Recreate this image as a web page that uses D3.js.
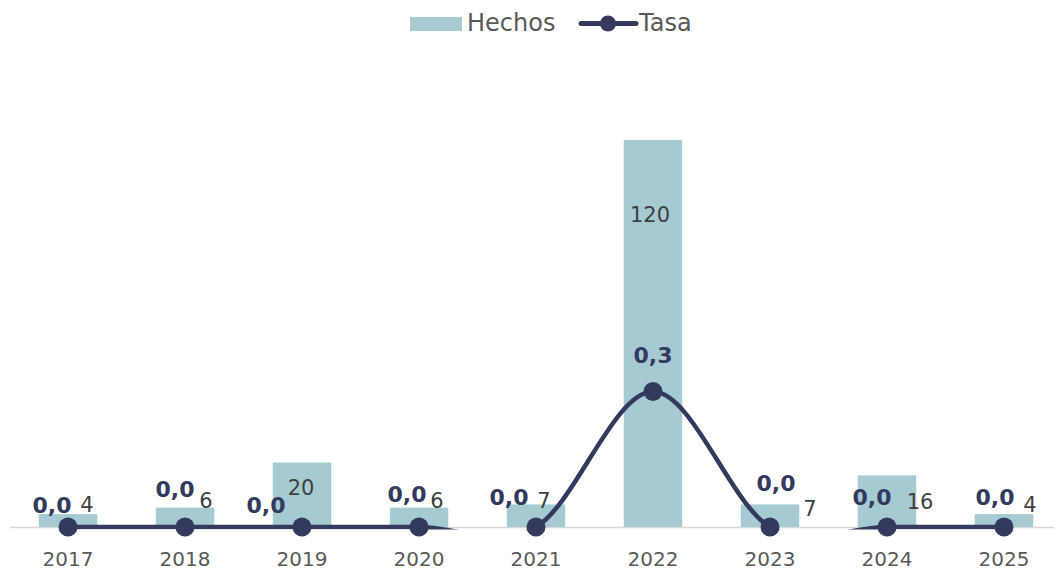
<!DOCTYPE html>
<html><head><meta charset="utf-8">
<script src="https://cdn.jsdelivr.net/npm/d3@7"></script>
<style>html,body{margin:0;padding:0;background:#fff;}svg{display:block;}</style>
</head><body>
<svg id="c" width="1054" height="570"></svg>
<script>
const years = ["2017","2018","2019","2020","2021","2022","2023","2024","2025"];
const hechos = [4, 6, 20, 6, 7, 120, 7, 16, 4];
const tasa = [0.0, 0.0, 0.0, 0.0, 0.0, 0.3, 0.0, 0.0, 0.0];
const tasaLabels = ["0,0","0,0","0,0","0,0","0,0","0,3","0,0","0,0","0,0"];
// label nudges (pixels) for data labels
const hechosNudge = [[19,-9],[21,-7],[-1,25],[18,-7],[8,-3],[-3,75],[40,5],[33,27],[26,-9]];
const tasaNudge = [[-16,-22],[-10,-38],[-36,-22],[-12,-33],[-27,-30],[0,-36],[6,-44],[-15,-30],[-9,-30]];

const svg = d3.select("#c");
const font = "DejaVu Sans";
const baseY = 527, topY = 75.5;
const x = d3.scaleBand().domain(years).range([9.5, 1062.5]).paddingInner(0.5).paddingOuter(0.25);
const xc = d => x(d) + x.bandwidth()/2;
const y = d3.scaleLinear().domain([0, 140]).range([baseY, topY]);
const y2 = d3.scaleLinear().domain([0, 1]).range([baseY, topY]);

// axis line
svg.append("line").attr("x1", 10).attr("x2", 1054).attr("y1", baseY+0.5).attr("y2", baseY+0.5)
  .attr("stroke", "#d9d9d9").attr("stroke-width", 1.5);

// bars
svg.append("g").selectAll("rect").data(hechos).join("rect")
  .attr("x", (d,i) => x(years[i]))
  .attr("width", x.bandwidth())
  .attr("y", d => y(d))
  .attr("height", d => baseY - y(d))
  .attr("fill", "#a6cad2");

// x axis labels
const xAxis = d3.axisBottom(x).tickSize(0).tickPadding(0);
const gx = svg.append("g").attr("transform", `translate(0,${baseY})`).call(xAxis);
gx.select(".domain").remove();
gx.selectAll("text").attr("font-family", font).attr("font-size", 20).attr("fill", "#595959")
  .attr("dy", null).attr("y", 38.5);

// clip
svg.append("clipPath").attr("id", "clip").append("rect")
  .attr("x", 0).attr("y", 0).attr("width", 1054).attr("height", baseY + 2.5);

// line
const line = d3.line().x((d,i) => xc(years[i])).y(d => y2(d)).curve(d3.curveCardinal.tension(0));
svg.append("path").datum(tasa).attr("d", line).attr("fill", "none")
  .attr("stroke", "#343a5e").attr("stroke-width", 4.5).attr("clip-path", "url(#clip)");

svg.append("g").selectAll("circle").data(tasa).join("circle")
  .attr("cx", (d,i) => xc(years[i])).attr("cy", d => y2(d)).attr("r", 9.5).attr("fill", "#343a5e");

// hechos labels
svg.append("g").selectAll("text").data(hechos).join("text")
  .attr("x", (d,i) => xc(years[i]) + hechosNudge[i][0])
  .attr("y", (d,i) => y(d) + hechosNudge[i][1])
  .attr("text-anchor", "middle").attr("dominant-baseline", "central")
  .attr("font-family", font).attr("font-size", 21).attr("fill", "#404040")
  .text(d => d);
// tasa labels
svg.append("g").selectAll("text").data(tasa).join("text")
  .attr("x", (d,i) => xc(years[i]) + tasaNudge[i][0])
  .attr("y", (d,i) => y2(d) + tasaNudge[i][1])
  .attr("text-anchor", "middle").attr("dominant-baseline", "central")
  .attr("font-family", font).attr("font-size", 22).attr("font-weight", "bold").attr("fill", "#343a5e")
  .text((d,i) => tasaLabels[i]);

// legend
const lg = svg.append("g");
lg.append("rect").attr("x", 410).attr("y", 17).attr("width", 52).attr("height", 14).attr("fill", "#a6cad2");
lg.append("text").attr("x", 467).attr("y", 31).attr("font-family", font).attr("font-size", 24)
  .attr("fill", "#595959").text("Hechos");
lg.append("line").attr("x1", 581).attr("x2", 636).attr("y1", 23.5).attr("y2", 23.5)
  .attr("stroke", "#343a5e").attr("stroke-width", 5).attr("stroke-linecap", "round");
lg.append("circle").attr("cx", 608).attr("cy", 23.5).attr("r", 8).attr("fill", "#343a5e");
lg.append("text").attr("x", 639).attr("y", 31).attr("font-family", font).attr("font-size", 24)
  .attr("fill", "#595959").text("Tasa");
</script>
</body></html>
